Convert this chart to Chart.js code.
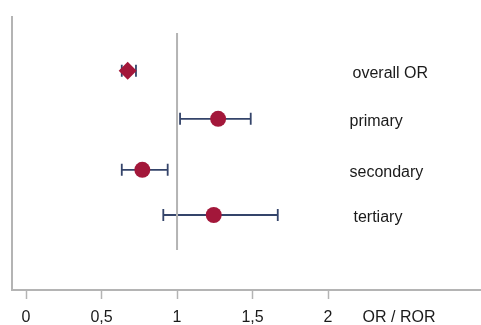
<!DOCTYPE html>
<html>
<head>
<meta charset="utf-8">
<script src="https://cdn.jsdelivr.net/npm/chart.js@4/dist/chart.umd.min.js"></script>
<style>
html,body{margin:0;padding:0;background:#fff;}
#c{display:block;}
</style>
</head>
<body>
<canvas id="c" width="481" height="325"></canvas>
<script>
const categories = ['overall OR', 'primary', 'secondary', 'tertiary'];
const rowPositions = [1, 2, 3.06, 4];
const estimates = [0.673, 1.272, 0.770, 1.243];
const lower = [0.634, 1.020, 0.634, 0.909];
const upper = [0.728, 1.488, 0.938, 1.667];
const tickValues = [0, 0.5, 1, 1.5, 2];
const tickLabels = ['0', '0,5', '1', '1,5', '2'];
const axisTitle = 'OR / ROR';
const axisTitleAt = 2.47;
const referenceValue = 1;
const markerShapes = ['rectRot', 'circle', 'circle', 'circle'];

const RED = '#a3173a';
const NAVY = '#34446a';
const GREY = '#b4b4b4';
const FONT = '"Liberation Sans", Arial, Helvetica, sans-serif';
const labelOffsets = [352.5, 349.5, 349.5, 353.5];

const points = categories.map((c, i) => ({ x: estimates[i], y: rowPositions[i] }));

const errorBars = {
  id: 'errorBars',
  beforeDatasetsDraw(chart) {
    const ctx = chart.ctx, xs = chart.scales.x, ys = chart.scales.y;
    ctx.save();
    ctx.strokeStyle = NAVY;
    ctx.lineWidth = 1.8;
    categories.forEach((c, i) => {
      const y = ys.getPixelForValue(rowPositions[i]);
      const x1 = xs.getPixelForValue(lower[i]);
      const x2 = xs.getPixelForValue(upper[i]);
      ctx.beginPath();
      ctx.moveTo(x1, y); ctx.lineTo(x2, y);
      ctx.moveTo(x1, y - 6); ctx.lineTo(x1, y + 6);
      ctx.moveTo(x2, y - 6); ctx.lineTo(x2, y + 6);
      ctx.stroke();
    });
    ctx.restore();
  },
  afterDraw(chart) {
    const ctx = chart.ctx, ys = chart.scales.y;
    ctx.save();
    ctx.fillStyle = '#1a1a1a';
    ctx.font = '16px ' + FONT;
    ctx.textAlign = 'left';
    ctx.textBaseline = 'middle';
    categories.forEach((c, i) => {
      ctx.fillText(c, labelOffsets[i], ys.getPixelForValue(rowPositions[i]) + 2.5);
    });
    ctx.restore();
  }
};

new Chart(document.getElementById('c'), {
  type: 'scatter',
  data: {
    datasets: [
      {
        type: 'line',
        data: [{ x: referenceValue, y: 0.216 }, { x: referenceValue, y: 4.728 }],
        borderColor: GREY,
        borderWidth: 2,
        pointRadius: 0,
        fill: false,
        order: 2
      },
      {
        data: points,
        pointStyle: markerShapes,
        pointRadius: [9, 8, 8, 8],
        backgroundColor: RED,
        borderColor: RED,
        borderWidth: 0,
        order: 1
      }
    ]
  },
  options: {
    responsive: false,
    animation: false,
    events: [],
    layout: { autoPadding: false, padding: { left: 12, right: 0, top: 17, bottom: 0 } },
    plugins: { legend: { display: false }, tooltip: { enabled: false } },
    scales: {
      x: {
        type: 'linear',
        min: -0.093,
        max: 3.013,
        afterBuildTicks(scale) {
          scale.ticks = tickValues.map(v => ({ value: v })).concat([{ value: axisTitleAt }]);
        },
        afterFit(scale) {
          scale.height = 35;
          scale.paddingLeft = 0;
          scale.paddingRight = 0;
        },
        ticks: {
          autoSkip: false,
          maxRotation: 0,
          padding: 11,
          color: '#1a1a1a',
          font: { family: FONT, size: 16, lineHeight: 1 },
          callback(value, index) {
            return index < tickLabels.length ? tickLabels[index] : axisTitle;
          }
        },
        grid: {
          display: true,
          drawOnChartArea: false,
          drawTicks: true,
          tickLength: 9,
          tickWidth: 1.5,
          tickColor: (ctx) => (ctx.index < tickValues.length ? GREY : 'rgba(0,0,0,0)')
        },
        border: { display: true, color: GREY, width: 2 }
      },
      y: {
        type: 'linear',
        reverse: true,
        min: -0.116,
        max: 5.559,
        afterFit(scale) {
          scale.width = 0;
          scale.paddingTop = 0;
          scale.paddingBottom = 0;
        },
        ticks: { display: false },
        grid: { display: false },
        border: { display: true, color: GREY, width: 2 }
      }
    }
  },
  plugins: [errorBars]
});
</script>
</body>
</html>
